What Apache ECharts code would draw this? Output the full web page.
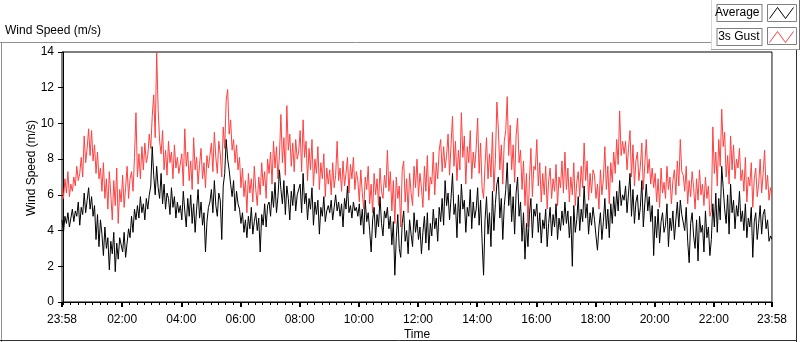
<!DOCTYPE html>
<html>
<head>
<meta charset="utf-8">
<script src="https://cdn.jsdelivr.net/npm/echarts@6/dist/echarts.min.js"></script>
<style>
  html, body { margin: 0; padding: 0; background: #fff; }
  #chart { width: 800px; height: 342px; }
</style>
</head>
<body>
<div id="chart"></div>
<script>
// samples every 3 min starting 23:58, one row per hour
var gust = [
  6.4, 5.8, 6.9, 6.1, 7.3, 5.9, 6.6, 6.2, 7.0, 6.5, 7.6, 6.8, 7.2, 8.1, 7.0, 9.3, 7.8, 8.6, 9.7, 8.2,
  9.6, 7.9, 8.8, 7.2, 8.4, 6.9, 7.5, 6.2, 7.8, 5.8, 6.9, 5.2, 7.3, 6.0, 4.6, 6.8, 5.4, 7.5, 4.4, 6.3,
  5.6, 7.1, 5.3, 6.4, 7.6, 5.8, 6.9, 7.3, 6.2, 8.1, 10.6, 7.0, 8.3, 6.9, 8.7, 7.4, 8.9, 7.8, 8.2, 9.4,
  8.6, 10.4, 11.6, 9.2, 14.0, 10.8, 9.0, 8.3, 9.6, 7.4, 8.5, 7.1, 9.0, 7.8, 8.4, 6.9, 8.8, 7.5, 8.1, 7.2,
  7.2, 8.3, 6.5, 9.7, 7.6, 8.4, 6.8, 7.9, 6.3, 9.2, 7.4, 8.1, 6.6, 7.7, 8.6, 6.9, 7.8, 6.4, 8.2, 7.5,
  7.6, 8.9, 7.3, 9.5, 8.1, 7.2, 9.0, 8.3, 7.0, 9.8, 8.6, 11.3, 11.9, 9.4, 10.2, 8.5, 9.1, 7.8, 8.8, 7.4,
  8.1, 6.4, 7.5, 5.9, 6.8, 5.0, 7.2, 6.1, 6.9, 5.6, 7.6, 6.3, 5.4, 7.0, 6.0, 7.8, 6.5, 7.3, 5.8, 8.0,
  7.2, 8.4, 6.6, 9.0, 7.5, 8.7, 6.9, 8.2, 10.5, 7.8, 9.2, 7.1, 11.0, 8.5, 9.4, 7.6, 8.9, 7.3, 9.1, 8.0,
  8.4, 9.6, 7.3, 10.2, 8.1, 9.0, 6.8, 8.6, 7.4, 9.1, 6.5, 8.0, 7.2, 8.7, 6.3, 7.8, 6.9, 8.3, 5.9, 7.5,
  6.6, 7.4, 6.0, 7.8, 6.4, 7.1, 9.0, 6.8, 7.5, 6.2, 7.9, 6.5, 7.2, 8.1, 6.1, 7.7, 6.9, 8.1, 6.3, 7.3,
  6.8, 5.6, 7.4, 6.1, 5.2, 7.0, 6.3, 7.6, 5.5, 6.6, 5.0, 7.2, 6.0, 6.9, 5.4, 7.5, 6.2, 5.8, 7.1, 6.4,
  8.5, 6.2, 7.3, 5.1, 6.8, 4.4, 7.0, 5.8, 6.5, 4.2, 7.4, 7.9, 5.6, 6.9, 5.0, 7.2, 6.1, 5.4, 7.6, 6.4,
  8.0, 5.9, 7.2, 6.4, 5.3, 7.6, 6.2, 8.2, 5.7, 7.0, 6.6, 8.4, 6.0, 7.8, 6.9, 8.5, 9.1, 7.3, 8.7, 7.5,
  8.2, 9.4, 7.1, 8.8, 10.4, 7.6, 9.0, 6.8, 8.5, 7.4, 10.6, 8.1, 9.3, 6.6, 8.7, 7.8, 9.6, 6.9, 8.4, 7.5,
  8.6, 10.3, 7.2, 8.9, 6.4, 5.8, 7.7, 9.2, 6.9, 8.3, 7.0, 9.5, 6.2, 8.0, 11.2, 9.7, 7.4, 8.8, 6.6, 9.0,
  9.6, 11.5, 8.2, 9.9, 7.4, 8.8, 6.7, 9.3, 10.3, 7.8, 8.5, 6.3, 7.9, 5.4, 7.2, 4.2, 6.8, 8.6, 5.9, 7.6,
  7.4, 9.1, 6.5, 7.8, 5.6, 7.2, 6.0, 7.6, 5.2, 6.8, 7.5, 5.8, 6.9, 6.2, 7.7, 5.4, 7.0, 6.4, 7.9, 6.1,
  8.4, 6.3, 7.5, 5.6, 7.0, 6.0, 7.8, 5.4, 6.7, 7.3, 5.9, 7.6, 6.4, 8.9, 6.8, 7.9, 5.7, 7.2, 6.1, 7.4,
  7.1, 5.8, 6.6, 5.2, 7.4, 6.0, 6.9, 8.7, 6.3, 7.6, 5.5, 7.8, 6.7, 8.4, 7.2, 9.1, 7.7, 10.7, 8.2, 9.0,
  8.3, 9.0, 7.4, 8.6, 9.6, 7.0, 8.8, 6.5, 7.9, 8.4, 6.8, 7.6, 8.9, 6.3, 7.7, 9.1, 7.2, 8.0, 6.6, 7.5,
  6.4, 7.2, 5.6, 6.9, 5.3, 7.5, 6.1, 6.7, 5.8, 7.6, 6.3, 7.0, 5.5, 6.8, 7.4, 6.0, 7.9, 6.5, 9.1, 7.3,
  7.1, 6.2, 7.6, 5.5, 6.8, 5.9, 7.3, 6.4, 5.2, 6.9, 5.7, 7.4, 6.0, 6.6, 5.4, 7.0, 5.8, 6.5, 4.8, 5.1,
  9.8, 7.2, 8.4, 6.5, 9.1, 7.6, 10.8, 8.7, 9.5, 7.0, 8.2, 6.6, 9.3, 7.4, 8.8, 6.9, 8.0, 7.5, 8.6, 6.8,
  7.4, 6.2, 8.1, 5.6, 7.0, 6.5, 7.8, 5.3, 6.9, 7.5, 5.9, 6.6, 8.0, 6.1, 7.2, 8.5, 6.3, 7.1, 5.7, 6.4,
  6.0
];

var average = [
  4.6, 3.9, 4.8, 4.4, 5.0, 4.2, 4.7, 5.2, 4.5, 5.1, 4.8, 5.6, 4.3, 5.3, 4.9, 6.1, 5.0, 5.7, 6.4, 5.2,
  5.9, 4.8, 5.4, 3.5, 4.9, 3.1, 4.6, 3.8, 2.6, 4.2, 3.0, 3.6, 1.8, 3.4, 2.7, 3.9, 1.7, 3.3, 2.4, 3.6,
  3.5, 2.8, 3.9, 2.5, 3.3, 4.1, 3.6, 4.8, 3.9, 5.2, 4.6, 5.4, 4.7, 5.9, 5.0, 5.5, 4.6, 5.8, 5.2, 6.0,
  6.5, 8.7, 7.1, 6.0, 7.6, 6.4, 5.8, 7.2, 5.5, 6.6, 5.2, 6.1, 5.8, 4.9, 6.4, 5.3, 5.9, 4.7, 5.6, 5.0,
  5.4, 4.6, 6.2, 5.1, 4.2, 5.8, 4.8, 6.0, 4.4, 5.5, 3.9, 5.2, 6.3, 4.7, 5.6, 4.3, 5.0, 2.8, 4.5, 5.3,
  5.6, 6.3, 5.0, 6.8, 5.4, 4.8, 6.1, 5.7, 3.5, 6.5, 7.2, 9.1, 8.0, 7.4, 6.6, 5.9, 6.8, 5.1, 6.2, 5.5,
  5.2, 4.4, 5.0, 3.9, 4.6, 3.6, 4.8, 4.1, 5.3, 3.8, 4.5, 5.0, 4.0, 4.7, 2.8, 4.9, 4.3, 5.5, 4.2, 5.4,
  5.6, 4.8, 6.2, 5.3, 6.7, 5.0, 5.9, 7.4, 6.3, 5.5, 6.8, 4.9, 6.5, 5.8, 4.6, 6.2, 5.4, 6.6, 5.1, 6.0,
  5.9, 6.6, 5.0, 7.2, 5.5, 6.1, 4.6, 5.8, 5.2, 6.4, 4.3, 5.6, 4.9, 5.7, 3.8, 5.3, 4.8, 5.9, 4.5, 5.1,
  5.4, 5.0, 5.7, 4.6, 5.3, 6.0, 5.1, 5.6, 4.8, 5.5, 4.2, 5.8, 5.2, 6.5, 5.0, 5.4, 4.7, 5.6, 5.1, 5.3,
  4.8, 5.5, 4.3, 5.2, 3.8, 5.7, 4.5, 5.0, 4.0, 2.8, 4.6, 5.3, 3.6, 4.9, 4.2, 5.9, 4.4, 3.7, 5.1, 4.7,
  5.3, 4.1, 4.8, 3.2, 4.5, 1.5, 3.6, 4.9, 3.0, 2.5, 4.4, 5.1, 3.4, 4.0, 2.7, 4.6, 3.8, 3.1, 5.0, 3.9,
  4.6, 3.5, 4.2, 2.7, 3.9, 4.8, 3.3, 5.0, 2.9, 4.4, 3.7, 5.2, 4.1, 4.7, 3.4, 5.3, 4.5, 5.8, 4.3, 6.8,
  5.4, 6.1, 4.6, 5.8, 7.2, 4.9, 5.5, 3.6, 6.0, 4.4, 6.6, 5.2, 5.7, 3.9, 5.3, 4.8, 6.3, 4.1, 5.6, 4.7,
  5.2, 6.4, 4.3, 5.7, 3.4, 1.5, 4.6, 5.9, 3.8, 5.0, 3.1, 6.2, 4.0, 5.5, 6.6, 7.0, 4.7, 5.8, 3.5, 5.4,
  6.3, 7.8, 5.4, 6.6, 4.5, 5.9, 3.8, 6.1, 7.0, 4.8, 5.6, 3.4, 5.0, 2.4, 4.4, 3.1, 4.9, 5.8, 3.6, 5.2,
  4.8, 5.5, 3.9, 5.0, 3.3, 4.6, 4.1, 5.2, 3.1, 4.4, 5.3, 3.7, 4.9, 4.2, 5.5, 3.5, 4.7, 4.0, 5.1, 4.3,
  5.6, 4.4, 5.1, 3.6, 4.8, 2.0, 5.4, 3.9, 4.6, 5.9, 4.0, 5.2, 4.5, 6.5, 4.7, 5.5, 3.8, 5.0, 4.3, 5.3,
  4.6, 3.7, 2.9, 4.2, 5.0, 3.5, 4.5, 5.8, 4.1, 5.2, 3.6, 5.5, 4.4, 5.9, 4.8, 6.2, 5.1, 6.8, 5.4, 6.0,
  5.7, 6.5, 5.0, 6.1, 7.2, 4.8, 6.3, 4.4, 5.6, 6.0, 4.6, 5.3, 6.8, 4.2, 5.5, 6.6, 5.1, 5.9, 4.5, 5.4,
  2.6, 4.8, 3.6, 5.2, 3.3, 4.5, 5.0, 3.9, 4.3, 5.5, 3.1, 4.7, 4.0, 5.1, 3.5, 4.6, 5.6, 4.2, 5.7, 4.9,
  4.9, 4.0, 5.3, 3.4, 2.2, 4.4, 5.0, 3.7, 3.0, 4.6, 2.3, 4.8, 3.9, 4.3, 2.8, 5.1, 3.6, 4.2, 2.6, 3.5,
  5.5, 4.2, 6.1, 3.9, 5.8, 4.6, 7.6, 6.4, 5.2, 4.4, 6.0, 3.8, 6.6, 5.0, 5.7, 4.1, 5.4, 4.8, 6.2, 4.5,
  5.1, 4.0, 5.5, 3.6, 4.7, 4.2, 5.3, 2.5, 4.5, 5.0, 3.5, 4.4, 5.4, 3.8, 4.9, 5.2, 4.1, 4.6, 3.4, 3.7,
  3.5
];

// minutes relative to midnight; the record runs 23:58 -> 23:58
var startMinute = -2;
var stepMinutes = 3;
var tickMinutes = [-2, 120, 240, 360, 480, 600, 720, 840, 960, 1080, 1200, 1320, 1438];
var tickLabels = ["23:58", "02:00", "04:00", "06:00", "08:00", "10:00", "12:00",
                  "14:00", "16:00", "18:00", "20:00", "22:00", "23:58"];
var minorTickMinutes = [];
for (var m = 0; m < 1440; m += 15) minorTickMinutes.push(m);

function toPairs(values) {
  return values.map(function (v, i) { return [startMinute + i * stepMinutes, v]; });
}

var font = "Liberation Sans";
var chart = echarts.init(document.getElementById("chart"));

var option = {
  animation: false,
  textStyle: { fontFamily: font },
  title: {
    text: "Wind Speed (m/s)",
    left: 5,
    top: 25,
    padding: 0,
    textStyle: { fontSize: 12, fontWeight: "normal", color: "#000", fontFamily: font }
  },
  legend: {
    orient: "vertical",
    right: 3,
    top: 4,
    padding: 0,
    align: "right",
    itemWidth: 30,
    itemHeight: 17,
    itemGap: 6,
    selectedMode: false,
    icon: "path://M0,0M30,17M3,14L11,3L19,14L27,3",
    textStyle: {
      fontSize: 12,
      color: "#000",
      fontFamily: font,
      backgroundColor: "#fff",
      borderColor: "#808080",
      borderWidth: 1,
      width: 40,
      lineHeight: 15,
      padding: [1, 2, 0, 2]
    },
    data: [
      { name: "Average", itemStyle: { color: "rgba(0,0,0,0)", borderColor: "#000", borderWidth: 1 } },
      { name: "3s Gust", itemStyle: { color: "rgba(0,0,0,0)", borderColor: "#ff4040", borderWidth: 1 } }
    ]
  },
  grid: {
    left: 62,
    right: 28,
    top: 52,
    bottom: 40,
    outerBoundsMode: "none",
    show: true,
    borderColor: "#000",
    borderWidth: 1,
    backgroundColor: "#fff"
  },
  xAxis: [
    {
      type: "value",
      min: -2,
      max: 1438,
      name: "Time",
      nameLocation: "middle",
      nameGap: 27,
      nameMoveOverlap: false,
      nameTextStyle: { fontSize: 12, color: "#000" },
      axisLine: { lineStyle: { color: "#000" } },
      axisTick: { customValues: tickMinutes, length: 5, lineStyle: { color: "#000", width: 2 } },
      axisLabel: {
        customValues: tickMinutes,
        margin: 12,
        fontSize: 12,
        color: "#000",
        formatter: function (v) { return tickLabels[tickMinutes.indexOf(v)]; }
      },
      splitLine: { show: false }
    },
    {
      type: "value",
      min: -2,
      max: 1438,
      position: "bottom",
      axisLine: { show: false },
      axisTick: { customValues: minorTickMinutes, length: 3, lineStyle: { color: "#000" } },
      axisLabel: { show: false },
      splitLine: { show: false }
    }
  ],
  yAxis: {
    type: "value",
    min: 0,
    max: 14,
    interval: 2,
    name: "Wind Speed (m/s)",
    nameLocation: "middle",
    nameGap: 24,
    nameMoveOverlap: false,
    nameTextStyle: { fontSize: 12, color: "#000", padding: [0, 0, 0, 18] },
    axisLine: { show: true, lineStyle: { color: "#000" } },
    axisTick: { show: true, length: 5, lineStyle: { color: "#000" } },
    axisLabel: { margin: 8, fontSize: 12, color: "#000" },
    splitLine: { show: false }
  },
  graphic: [
    { type: "line", shape: { x1: 0, y1: 42.5, x2: 711, y2: 42.5 }, style: { stroke: "#909090", lineWidth: 1 } },
    { type: "line", shape: { x1: 1.5, y1: 42, x2: 1.5, y2: 342 }, style: { stroke: "#909090", lineWidth: 1 } },
    { type: "line", shape: { x1: 0, y1: 340.5, x2: 797, y2: 340.5 }, style: { stroke: "#303030", lineWidth: 1 } },
    { type: "line", shape: { x1: 796.5, y1: 49, x2: 796.5, y2: 342 }, style: { stroke: "#303030", lineWidth: 1 } },
    { type: "line", shape: { x1: 772.5, y1: 52, x2: 772.5, y2: 302 }, style: { stroke: "#909090", lineWidth: 1 }, z: 10 },
    { type: "rect", shape: { x: 711, y: 0, width: 89, height: 49 }, style: { fill: "#fff" } },
    { type: "line", shape: { x1: 711.5, y1: 0, x2: 711.5, y2: 49 }, style: { stroke: "#d8d8d8", lineWidth: 1 } },
    { type: "line", shape: { x1: 711, y1: 49.5, x2: 800, y2: 49.5 }, style: { stroke: "#a0a0a0", lineWidth: 1 } },
    { type: "line", shape: { x1: 799.5, y1: 0, x2: 799.5, y2: 50 }, style: { stroke: "#707070", lineWidth: 1 } },
    { type: "rect", shape: { x: 767.5, y: 4.5, width: 29, height: 17 }, style: { fill: "#fff", stroke: "#808080", lineWidth: 1 } },
    { type: "rect", shape: { x: 767.5, y: 27.5, width: 29, height: 17 }, style: { fill: "#fff", stroke: "#808080", lineWidth: 1 } }
  ],
  series: [
    {
      name: "Average",
      type: "line",
      showSymbol: false,
      z: 3,
      color: "#000",
      lineStyle: { width: 1, color: "#000" },
      data: toPairs(average)
    },
    {
      name: "3s Gust",
      type: "line",
      showSymbol: false,
      z: 2,
      color: "#ff4040",
      lineStyle: { width: 1, color: "#ff4040" },
      data: toPairs(gust)
    }
  ]
};

chart.setOption(option);
</script>
</body>
</html>
